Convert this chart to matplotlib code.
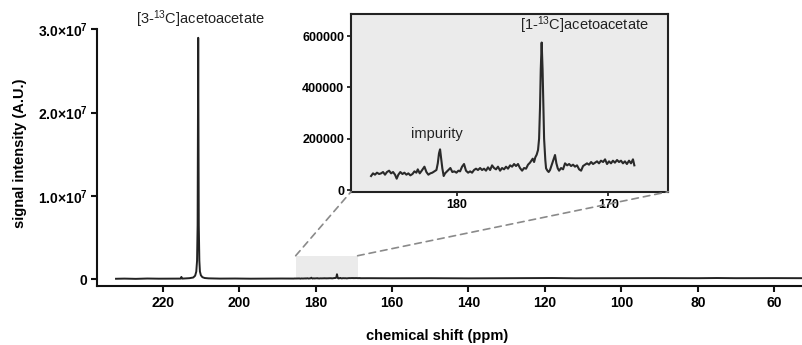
import numpy as np
import matplotlib
matplotlib.use("Agg")
import matplotlib.pyplot as plt
from matplotlib.patches import Rectangle, ConnectionPatch

plt.rcParams['font.family'] = ['Liberation Sans', 'DejaVu Sans']
plt.rcParams['mathtext.fontset'] = 'custom'
plt.rcParams['mathtext.rm'] = 'Liberation Sans'
plt.rcParams['mathtext.bf'] = 'Liberation Sans:bold'
plt.rcParams['mathtext.default'] = 'regular'

# ---- data: main spectrum (ppm, intensity) outside the zoom window ----
main_shift_left = [232.2, 230.0, 227.0, 224.0, 221.0, 218.0, 215.3, 215.1, 214.9, 213.0,
                   212.0, 211.5, 211.2, 211.0, 210.85, 210.7, 210.55, 210.4, 210.25,
                   210.0, 209.6, 209.0, 208.0, 205.0, 201.0, 197.0, 193.0, 189.0, 186.0]
main_signal_left = [0.03e6, 0.05e6, 0.02e6, 0.06e6, 0.04e6, 0.05e6, 0.05e6, 0.25e6, 0.05e6, 0.1e6,
                    0.18e6, 0.4e6, 0.9e6, 2.2e6, 6.5e6, 29.0e6, 6.5e6, 2.2e6, 0.9e6,
                    0.45e6, 0.22e6, 0.12e6, 0.08e6, 0.05e6, 0.06e6, 0.04e6, 0.05e6, 0.06e6, 0.05e6]
main_shift_right = [166.0, 160.0, 150.0, 140.0, 130.0, 118.0, 112.0, 100.0, 90.0, 80.0,
                    75.0, 70.0, 60.0, 52.5]
main_signal_right = [0.1e6, 0.09e6, 0.1e6, 0.08e6, 0.1e6, 0.12e6, 0.09e6, 0.1e6, 0.11e6, 0.1e6,
                     0.12e6, 0.1e6, 0.11e6, 0.1e6]

# ---- data: zoomed region 187-166 ppm ----
inset_shift = [
    185.65, 185.52, 185.39, 185.26, 185.12, 184.99, 184.86, 184.73, 184.60, 184.46,
    184.33, 184.20, 184.07, 183.96, 183.85, 183.72, 183.58, 183.45, 183.32, 183.19,
    183.06, 182.92, 182.79, 182.66, 182.57, 182.44, 182.31, 182.13, 182.00, 181.87,
    181.74, 181.61, 181.47, 181.34, 181.25, 181.17, 181.10, 181.04, 180.95, 180.86,
    180.77, 180.68, 180.55, 180.42, 180.29, 180.16, 180.02, 179.89, 179.78,
    179.65, 179.52, 179.39, 179.25, 179.12, 178.99, 178.86, 178.73, 178.60, 178.46,
    178.33, 178.20, 178.07, 177.94, 177.80, 177.67, 177.54, 177.41, 177.28, 177.14,
    177.01, 176.88, 176.75, 176.62, 176.48, 176.35, 176.22, 176.09, 175.96, 175.83,
    175.69, 175.56, 175.43, 175.30, 175.17, 175.08, 174.99, 174.90, 174.82, 174.73,
    174.64, 174.57, 174.51, 174.46, 174.40, 174.34, 174.29, 174.24, 174.16, 174.11,
    174.02, 173.94, 173.85, 173.72, 173.63, 173.52, 173.43, 173.34, 173.25, 173.12,
    172.99, 172.86, 172.72, 172.59, 172.46, 172.33, 172.20, 172.07, 171.93, 171.80,
    171.67, 171.54, 171.41, 171.28, 171.14, 171.01, 170.88, 170.75, 170.62, 170.49,
    170.35, 170.22, 170.09, 169.96, 169.83, 169.70, 169.57, 169.43, 169.30, 169.17,
    169.04, 168.91, 168.78, 168.64, 168.51, 168.38, 168.29]
inset_signal = [
    54.6e3, 65.0e3, 59.8e3, 67.6e3, 62.4e3, 65.0e3, 70.2e3, 59.8e3, 70.2e3, 75.4e3,
    65.0e3, 70.2e3, 59.8e3, 44.2e3, 59.8e3, 70.2e3, 62.4e3, 67.6e3, 59.8e3, 65.0e3,
    57.2e3, 62.4e3, 72.8e3, 67.6e3, 80.6e3, 65.0e3, 75.4e3, 91.0e3, 70.2e3, 59.8e3,
    65.0e3, 67.6e3, 72.8e3, 78.0e3, 104e3, 143e3, 158.6e3, 130e3, 84.5e3, 54.6e3,
    65.0e3, 70.2e3, 78.0e3, 85.8e3, 70.2e3, 72.8e3, 67.6e3, 75.4e3, 72.8e3,
    91.0e3, 101.4e3, 75.4e3, 67.6e3, 72.8e3, 67.6e3, 78.0e3, 83.2e3, 78.0e3, 85.8e3,
    78.0e3, 83.2e3, 75.4e3, 88.4e3, 78.0e3, 96.2e3, 85.8e3, 80.6e3, 91.0e3, 75.4e3,
    85.8e3, 80.6e3, 91.0e3, 83.2e3, 96.2e3, 91.0e3, 101.4e3, 93.6e3, 101.4e3, 85.8e3,
    75.4e3, 85.8e3, 83.2e3, 98.8e3, 106.6e3, 114.4e3, 122.2e3, 109.2e3, 127.4e3, 137.8e3,
    156e3, 200e3, 320e3, 470e3, 575e3, 470e3, 330e3, 200e3, 117e3, 84.5e3,
    75.4e3, 70.2e3, 78.0e3, 101.4e3, 117e3, 136.5e3, 104e3, 84.5e3, 75.4e3, 85.8e3,
    80.6e3, 104e3, 96.2e3, 101.4e3, 93.6e3, 98.8e3, 91.0e3, 96.2e3, 80.6e3, 75.4e3,
    93.6e3, 98.8e3, 104e3, 98.8e3, 109.2e3, 101.4e3, 106.6e3, 111.8e3, 104e3, 114.4e3,
    109.2e3, 119.6e3, 101.4e3, 111.8e3, 104e3, 114.4e3, 106.6e3, 117e3, 109.2e3, 114.4e3,
    104e3, 111.8e3, 101.4e3, 114.4e3, 104e3, 119.6e3, 96.2e3]

main_xticks = [220, 200, 180, 160, 140, 120, 100, 80, 60]
main_yticks = [0, 1.0e7, 2.0e7, 3.0e7]
main_yticklabels = ['0', r'1.0×10$^{\mathbf{7}}$', r'2.0×10$^{\mathbf{7}}$', r'3.0×10$^{\mathbf{7}}$']
inset_xticks = [180, 170]
inset_yticks = [0, 200000, 400000, 600000]
zoom_window = (185.2, 169.0, 2.8e6)

line_col = '#222222'
grey_face = '#ebebeb'

fig = plt.figure(figsize=(8.02, 3.45), dpi=100)

# ---- main axes ----
ax = fig.add_axes([0.1213, 0.171, 0.8787, 0.7435])
shift_all = np.concatenate([main_shift_left, inset_shift, main_shift_right])
sig_all = np.concatenate([main_signal_left, inset_signal, main_signal_right])
ax.add_patch(Rectangle((zoom_window[1], 0), zoom_window[0] - zoom_window[1], zoom_window[2],
                       facecolor=grey_face, edgecolor='none', zorder=1))
ax.plot(shift_all, sig_all, color=line_col, lw=1.4, zorder=3)
ax.set_xlim(237.1, 52.75)
ax.set_ylim(-0.84e6, 3.0e7)
ax.set_xticks(main_xticks)
ax.set_xticklabels([str(t) for t in main_xticks])
ax.set_yticks(main_yticks)
ax.set_yticklabels(main_yticklabels)
for s in ['top', 'right']:
    ax.spines[s].set_visible(False)
for s in ['left', 'bottom']:
    ax.spines[s].set_linewidth(1.5)
    ax.spines[s].set_color('#111111')
ax.tick_params(axis='both', direction='out', length=4, width=1.5, color='#111111',
               labelsize=10, pad=3)
for lab in ax.get_xticklabels() + ax.get_yticklabels():
    lab.set_fontweight('bold')
fig.text(0.2494, 0.944, r'[3-$^{13}$C]acetoacetate',
         ha='center', va='center', fontsize=10.5, color='#222222')

fig.text(0.5445, 0.026, 'chemical shift (ppm)', ha='center', va='center',
         fontsize=10.5, fontweight='bold')
fig.text(0.025, 0.556, 'signal intensity (A.U.)', ha='center', va='center',
         rotation=90, fontsize=10.5, fontweight='bold')

# ---- inset axes ----
axi = fig.add_axes([0.4377, 0.4443, 0.3956, 0.5142])
axi.set_facecolor(grey_face)
axi.plot(inset_shift, inset_signal, color='#2a2a2a', lw=1.5)
axi.set_xlim(186.97, 166.05)
axi.set_ylim(-6600, 685000)
axi.set_xticks(inset_xticks)
axi.set_xticklabels([str(t) for t in inset_xticks])
axi.set_yticks(inset_yticks)
axi.set_yticklabels([str(t) for t in inset_yticks])
for s in axi.spines.values():
    s.set_linewidth(1.5)
    s.set_color('#222222')
axi.tick_params(axis='both', direction='out', length=3, width=1.3, color='#222222',
                labelsize=9, pad=2)
for lab in axi.get_xticklabels() + axi.get_yticklabels():
    lab.set_fontweight('bold')
axi.text(175.85, 643000, r'[1-$^{13}$C]acetoacetate', ha='left', va='center',
         fontsize=10.5, color='#222222')
axi.text(181.3, 220000, 'impurity', ha='center', va='center', fontsize=10.5, color='#222222')

# ---- dashed connectors ----
for xa, xb in [(zoom_window[0], 0.0), (zoom_window[1], 1.0)]:
    con = ConnectionPatch(xyA=(xa, zoom_window[2]), coordsA=ax.transData,
                          xyB=(xb, 0.0), coordsB=axi.transAxes,
                          color='#8a8a8a', lw=1.2, linestyle=(0, (4, 3)))
    fig.add_artist(con)

fig.savefig('out.png', dpi=100)
